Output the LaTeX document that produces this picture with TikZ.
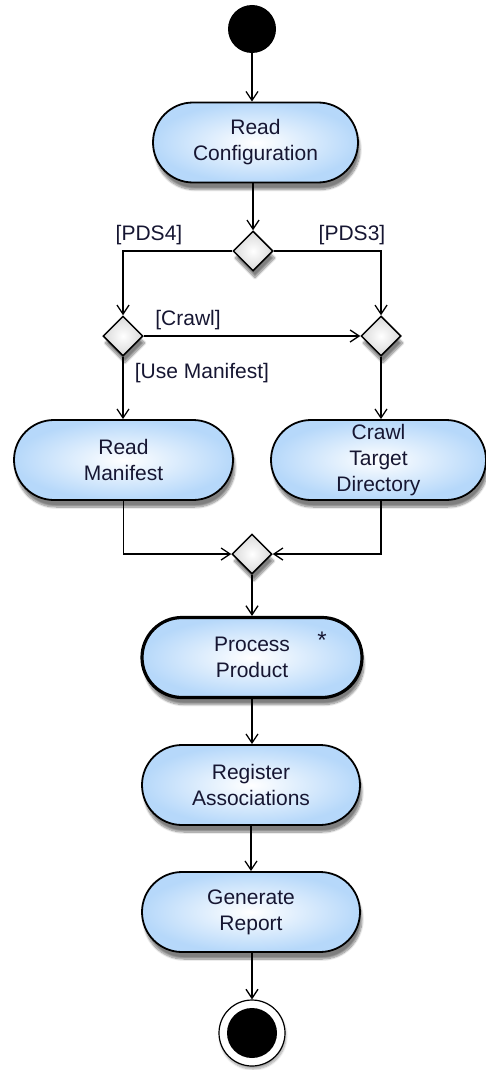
\documentclass[tikz,border=0pt]{standalone}
\usepackage{fontspec}
\setmainfont{Liberation Sans}
\usetikzlibrary{arrows.meta,shapes.geometric,shadows.blur}
\definecolor{actblue}{RGB}{182,216,250}
\definecolor{txt}{RGB}{22,22,50}
\tikzset{
  flow/.style={draw=black, line width=1.4pt, -{Straight Barb[length=9pt,width=12pt,line width=1.3pt]}},
  action/.style={rectangle, draw=black, line width=1.8pt, rounded corners=40pt,
    inner color=white, outer color=actblue, align=center, text=txt,
    minimum height=80pt, inner sep=0pt,
    blur shadow={shadow xshift=2pt, shadow yshift=-7pt, shadow blur steps=10, shadow opacity=50},
    font=\fontsize{21}{26}\selectfont},
  decision/.style={diamond, aspect=1, draw=black, line width=1.5pt, inner sep=0pt,
    minimum width=40pt, minimum height=40pt, inner color=white, outer color=black!15,
    blur shadow={shadow xshift=2pt, shadow yshift=-7pt, shadow blur steps=10, shadow opacity=50}},
  guard/.style={text=txt, inner sep=0pt, font=\fontsize{21}{26}\selectfont},
}
\begin{document}
\begin{tikzpicture}[x=1pt, y=-1pt]
\useasboundingbox (0,0) rectangle (486,1070);

% start and end states
\node[circle, fill=black, minimum size=48pt, inner sep=0pt] (start) at (252,29) {};
\node[circle, draw=black, fill=white, line width=1.2pt, minimum size=66pt, inner sep=0pt,
  blur shadow={shadow xshift=1pt, shadow yshift=-3pt, shadow blur steps=6, shadow opacity=35}] (stop) at (252,1033) {};
\node[circle, fill=black, minimum size=50pt, inner sep=0pt] (stopdot) at (stop) {};

% actions
\node[action, minimum width=205pt] (conf) at (255.5,142.5) {Read\\Configuration};
\node[action, minimum width=219pt] (man) at (123.5,460) {Read\\Manifest};
\node[action, minimum width=215pt] (crawl) at (378.5,460) {Crawl\\Target\\Directory};
\node[action, minimum width=220pt, line width=3.2pt] (proc) at (252,657.5) {Process\\Product};
\node[action, minimum width=218pt] (reg) at (251,785) {Register\\Associations};
\node[action, minimum width=218pt] (gen) at (251,912) {Generate\\Report};
\node[text=txt, font=\fontsize{24}{24}\selectfont, inner sep=0pt] (star) at (322,640) {*};

% decisions
\node[decision] (d1) at (253,251) {};
\node[decision] (d2) at (123,336) {};
\node[decision] (d3) at (381,336) {};
\node[decision] (mrg) at (252,554) {};

% guards
\node[guard] (gpds4) at (149,235) {[PDS4]};
\node[guard] (gpds3) at (352,235) {[PDS3]};
\node[guard] (gcrawl) at (188,320) {[Crawl]};
\node[guard] (guse) at (202,373) {[Use Manifest]};

% flows
\draw[flow] (start) -- (start |- conf.north);
\draw[flow] (conf.south -| d1) -- (d1.north);
\draw[flow] (d1.west) -| (d2.north);
\draw[flow] (d1.east) -| (d3.north);
\draw[flow] (d2.east) -- (d3.west);
\draw[flow] (d2.south) -- (d2.south |- man.north);
\draw[flow] (d3.south) -- (d3.south |- crawl.north);
\draw[flow] (man.south) |- (mrg.west);
\draw[flow] (d3.south |- crawl.south) |- (mrg.east);
\draw[flow] (mrg.south) -- (mrg.south |- proc.north);
\draw[flow] (proc.south) -- (proc.south |- reg.north);
\draw[flow] (reg.south) -- (reg.south |- gen.north);
\draw[flow] (gen.south -| stop) -- (stop.north);
\end{tikzpicture}
\end{document}
